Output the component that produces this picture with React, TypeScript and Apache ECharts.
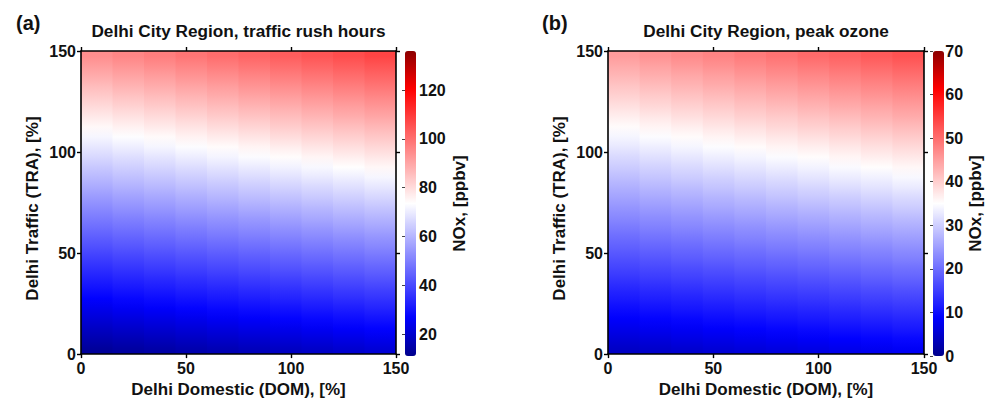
import React, { useEffect, useRef } from "react";
import * as echarts from "echarts";

// Cell centres (DOM along x, TRA along y), in %
const domCenters = [7.5, 22.5, 37.5, 52.5, 67.5, 82.5, 97.5, 112.5, 127.5, 142.5];
const traCenters = [
  2.5, 7.5, 12.5, 17.5, 22.5, 27.5, 32.5, 37.5, 42.5, 47.5,
  52.5, 57.5, 62.5, 67.5, 72.5, 77.5, 82.5, 87.5, 92.5, 97.5,
  102.5, 107.5, 112.5, 117.5, 122.5, 127.5, 132.5, 137.5, 142.5, 147.5,
];

// (a) NOx [ppbv], traffic rush hours; one row per TRA value (bottom to top), one column per DOM value
const noxRush = [
  [12.9, 13.8, 14.7, 15.6, 16.5, 17.4, 18.3, 19.2, 20.1, 21.0],
  [15.7, 16.6, 17.5, 18.5, 19.4, 20.3, 21.3, 22.2, 23.1, 24.0],
  [18.5, 19.4, 20.4, 21.3, 22.3, 23.2, 24.2, 25.1, 26.1, 27.0],
  [21.3, 22.3, 23.2, 24.2, 25.2, 26.1, 27.1, 28.1, 29.1, 30.0],
  [24.1, 25.1, 26.1, 27.1, 28.1, 29.1, 30.0, 31.0, 32.0, 33.0],
  [26.9, 27.9, 28.9, 29.9, 31.0, 32.0, 33.0, 34.0, 35.0, 36.0],
  [29.7, 30.8, 31.8, 32.8, 33.8, 34.9, 35.9, 36.9, 38.0, 39.0],
  [32.5, 33.6, 34.6, 35.7, 36.7, 37.8, 38.8, 39.9, 40.9, 42.0],
  [35.3, 36.4, 37.5, 38.6, 39.6, 40.7, 41.8, 42.8, 43.9, 45.0],
  [38.1, 39.2, 40.3, 41.4, 42.5, 43.6, 44.7, 45.8, 46.9, 48.0],
  [41.0, 42.1, 43.2, 44.3, 45.4, 46.5, 47.6, 48.7, 49.8, 51.0],
  [43.8, 44.9, 46.0, 47.2, 48.3, 49.4, 50.6, 51.7, 52.8, 53.9],
  [46.6, 47.7, 48.9, 50.0, 51.2, 52.3, 53.5, 54.6, 55.8, 56.9],
  [49.4, 50.6, 51.7, 52.9, 54.1, 55.2, 56.4, 57.6, 58.8, 59.9],
  [52.2, 53.4, 54.6, 55.8, 57.0, 58.2, 59.3, 60.5, 61.7, 62.9],
  [55.0, 56.2, 57.4, 58.6, 59.9, 61.1, 62.3, 63.5, 64.7, 65.9],
  [57.8, 59.1, 60.3, 61.5, 62.7, 64.0, 65.2, 66.4, 67.7, 68.9],
  [60.6, 61.9, 63.1, 64.4, 65.6, 66.9, 68.1, 69.4, 70.6, 71.9],
  [63.4, 64.7, 66.0, 67.3, 68.5, 69.8, 71.1, 72.3, 73.6, 74.9],
  [66.3, 67.5, 68.8, 70.1, 71.4, 72.7, 74.0, 75.3, 76.6, 77.9],
  [69.1, 70.4, 71.7, 73.0, 74.3, 75.6, 76.9, 78.2, 79.5, 80.9],
  [71.9, 73.2, 74.5, 75.9, 77.2, 78.5, 79.9, 81.2, 82.5, 83.8],
  [74.7, 76.0, 77.4, 78.7, 80.1, 81.4, 82.8, 84.1, 85.5, 86.8],
  [77.5, 78.9, 80.2, 81.6, 83.0, 84.3, 85.7, 87.1, 88.5, 89.8],
  [80.3, 81.7, 83.1, 84.5, 85.9, 87.3, 88.6, 90.0, 91.4, 92.8],
  [83.1, 84.5, 85.9, 87.3, 88.8, 90.2, 91.6, 93.0, 94.4, 95.8],
  [85.9, 87.4, 88.8, 90.2, 91.6, 93.1, 94.5, 95.9, 97.4, 98.8],
  [88.7, 90.2, 91.6, 93.1, 94.5, 96.0, 97.4, 98.9, 100.3, 101.8],
  [91.5, 93.0, 94.5, 96.0, 97.4, 98.9, 100.4, 101.8, 103.3, 104.8],
  [94.3, 95.8, 97.3, 98.8, 100.3, 101.8, 103.3, 104.8, 106.3, 107.8],
];

// (b) NOx [ppbv], peak ozone
const noxOzone = [
  [4.4, 4.8, 5.2, 5.6, 6.0, 6.4, 6.8, 7.3, 7.7, 8.1],
  [5.8, 6.2, 6.7, 7.1, 7.5, 7.9, 8.3, 8.8, 9.2, 9.6],
  [7.2, 7.7, 8.1, 8.5, 9.0, 9.4, 9.8, 10.3, 10.7, 11.2],
  [8.6, 9.1, 9.5, 10.0, 10.4, 10.9, 11.3, 11.8, 12.2, 12.7],
  [10.0, 10.5, 11.0, 11.4, 11.9, 12.4, 12.8, 13.3, 13.8, 14.2],
  [11.4, 11.9, 12.4, 12.9, 13.4, 13.9, 14.3, 14.8, 15.3, 15.8],
  [12.8, 13.3, 13.8, 14.3, 14.8, 15.3, 15.8, 16.3, 16.8, 17.3],
  [14.3, 14.8, 15.3, 15.8, 16.3, 16.8, 17.3, 17.8, 18.4, 18.9],
  [15.7, 16.2, 16.7, 17.2, 17.8, 18.3, 18.8, 19.4, 19.9, 20.4],
  [17.1, 17.6, 18.2, 18.7, 19.2, 19.8, 20.3, 20.9, 21.4, 22.0],
  [18.5, 19.0, 19.6, 20.2, 20.7, 21.3, 21.8, 22.4, 22.9, 23.5],
  [19.9, 20.5, 21.0, 21.6, 22.2, 22.8, 23.3, 23.9, 24.5, 25.0],
  [21.3, 21.9, 22.5, 23.1, 23.6, 24.2, 24.8, 25.4, 26.0, 26.6],
  [22.7, 23.3, 23.9, 24.5, 25.1, 25.7, 26.3, 26.9, 27.5, 28.1],
  [24.1, 24.7, 25.3, 26.0, 26.6, 27.2, 27.8, 28.4, 29.0, 29.7],
  [25.5, 26.1, 26.8, 27.4, 28.0, 28.7, 29.3, 29.9, 30.6, 31.2],
  [26.9, 27.6, 28.2, 28.9, 29.5, 30.2, 30.8, 31.5, 32.1, 32.8],
  [28.3, 29.0, 29.7, 30.3, 31.0, 31.6, 32.3, 33.0, 33.6, 34.3],
  [29.7, 30.4, 31.1, 31.8, 32.4, 33.1, 33.8, 34.5, 35.2, 35.8],
  [31.1, 31.8, 32.5, 33.2, 33.9, 34.6, 35.3, 36.0, 36.7, 37.4],
  [32.6, 33.3, 34.0, 34.7, 35.4, 36.1, 36.8, 37.5, 38.2, 38.9],
  [34.0, 34.7, 35.4, 36.1, 36.9, 37.6, 38.3, 39.0, 39.7, 40.5],
  [35.4, 36.1, 36.8, 37.6, 38.3, 39.1, 39.8, 40.5, 41.3, 42.0],
  [36.8, 37.5, 38.3, 39.0, 39.8, 40.5, 41.3, 42.0, 42.8, 43.6],
  [38.2, 39.0, 39.7, 40.5, 41.3, 42.0, 42.8, 43.6, 44.3, 45.1],
  [39.6, 40.4, 41.2, 41.9, 42.7, 43.5, 44.3, 45.1, 45.9, 46.6],
  [41.0, 41.8, 42.6, 43.4, 44.2, 45.0, 45.8, 46.6, 47.4, 48.2],
  [42.4, 43.2, 44.0, 44.8, 45.7, 46.5, 47.3, 48.1, 48.9, 49.7],
  [43.8, 44.6, 45.5, 46.3, 47.1, 48.0, 48.8, 49.6, 50.4, 51.3],
  [45.2, 46.1, 46.9, 47.7, 48.6, 49.4, 50.3, 51.1, 52.0, 52.8],
];

const axisRange = [0, 150];
const axisStep = 50;
const cbRangeA = [11, 136];
const cbTicksA = [20, 40, 60, 80, 100, 120];
const cbRangeB = [0, 70];
const cbTicksB = [0, 10, 20, 30, 40, 50, 60, 70];

const titles = ["Delhi City Region, traffic rush hours", "Delhi City Region, peak ozone"];
const panelLabels = ["(a)", "(b)"];
const xName = "Delhi Domestic (DOM), [%]";
const yName = "Delhi Traffic (TRA), [%]";
const cbName = "NOx, [ppbv]";

// blue-white-red colormap with dark ends (evenly spaced stops)
const colormap = [
  "#00008c", "#0000ff", "#5555ff", "#aaaaff", "#ffffff",
  "#ffaaaa", "#ff5555", "#ff0000", "#8c0000",
];

const FONT = "'Liberation Sans', Arial, Helvetica, sans-serif";
const TXT = "#111";

function hexRgb(h: string) {
  return [parseInt(h.slice(1, 3), 16), parseInt(h.slice(3, 5), 16), parseInt(h.slice(5, 7), 16)];
}
function mapColor(v: number, range: number[]) {
  let t = (v - range[0]) / (range[1] - range[0]);
  t = Math.max(0, Math.min(1, t));
  const pos = t * (colormap.length - 1);
  const k = Math.min(colormap.length - 2, Math.floor(pos));
  const f = pos - k;
  const a = hexRgb(colormap[k]);
  const b = hexRgb(colormap[k + 1]);
  const c = a.map((av, n) => Math.round(av + (b[n] - av) * f));
  return `rgb(${c[0]},${c[1]},${c[2]})`;
}

// each DOM column is drawn as one strip, shaded through the TRA rows of that column
function fieldSeries(rows: number[][], xAxisIndex: number, yAxisIndex: number, range: number[]) {
  const half = (domCenters[1] - domCenters[0]) / 2;
  return {
    type: "custom",
    coordinateSystem: "cartesian2d",
    xAxisIndex,
    yAxisIndex,
    clip: true,
    data: domCenters.map((d, i) => [d, i]),
    encode: { x: 0, y: 1 },
    renderItem: (_params: any, api: any) => {
      const i = api.value(1);
      const xc = api.value(0);
      const pTop = api.coord([xc - half, axisRange[1]]);
      const pBot = api.coord([xc + half, axisRange[0]]);
      const span = axisRange[1] - axisRange[0];
      const stops = traCenters
        .map((t, j) => ({ offset: (axisRange[1] - t) / span, color: mapColor(rows[j][i], range) }))
        .reverse();
      const last = i === domCenters.length - 1;
      return {
        type: "rect",
        shape: {
          x: pTop[0],
          y: pTop[1],
          width: pBot[0] - pTop[0] + (last ? 0 : 0.8),
          height: pBot[1] - pTop[1],
        },
        style: { fill: new echarts.graphic.LinearGradient(0, 0, 0, 1, stops) },
      };
    },
  };
}

function valueX(gridIndex: number, position: string, labels: boolean) {
  return {
    type: "value",
    gridIndex,
    position,
    min: axisRange[0],
    max: axisRange[1],
    interval: axisStep,
    z: 10,
    axisLine: { show: true, onZero: false, lineStyle: { color: "#000", width: 1.6 } },
    axisTick: { show: true, length: 4, lineStyle: { color: "#000", width: 1.4 } },
    axisLabel: { show: labels, margin: 6, fontSize: 16, fontWeight: "bold", color: TXT, fontFamily: FONT },
    splitLine: { show: false },
    name: labels ? xName : "",
    nameLocation: "middle",
    nameGap: 20,
    nameTextStyle: { fontSize: 17, fontWeight: "bold", color: TXT, fontFamily: FONT },
  };
}

function valueY(gridIndex: number, position: string, labels: boolean) {
  return {
    type: "value",
    gridIndex,
    position,
    min: axisRange[0],
    max: axisRange[1],
    interval: axisStep,
    z: 10,
    axisLine: { show: true, onZero: false, lineStyle: { color: "#000", width: 1.6 } },
    axisTick: { show: true, length: 4, lineStyle: { color: "#000", width: 1.4 } },
    axisLabel: { show: labels, margin: 5, fontSize: 16, fontWeight: "bold", color: TXT, fontFamily: FONT },
    splitLine: { show: false },
    name: labels ? yName : "",
    nameLocation: "middle",
    nameGap: 40,
    nameTextStyle: { fontSize: 17, fontWeight: "bold", color: TXT, fontFamily: FONT, padding: [0, 0, 0, -12] },
  };
}

function cbAxis(gridIndex: number, range: number[], ticks: number[], gap: number) {
  return {
    type: "value",
    gridIndex,
    position: "right",
    min: range[0],
    max: range[1],
    splitNumber: 6,
    z: 10,
    axisLine: { show: false },
    axisTick: { show: true, inside: true, length: 3, customValues: ticks, lineStyle: { color: "#444", width: 1 } },
    axisLabel: {
      margin: 3, customValues: ticks,
      fontSize: 16, fontWeight: "bold", color: TXT, fontFamily: FONT,
    },
    splitLine: { show: false },
    name: cbName,
    nameLocation: "middle",
    nameGap: gap,
    nameTextStyle: { fontSize: 17, fontWeight: "bold", color: TXT, fontFamily: FONT },
  };
}

const plotGrids = [
  { left: 81, top: 51, width: 315, height: 305 },
  { left: 608, top: 51, width: 316, height: 305 },
];
const cbGrids = [
  { left: 405, top: 51, width: 11, height: 305 },
  { left: 933, top: 51, width: 11, height: 305 },
];

const option: any = {
  animation: false,
  backgroundColor: "#fff",
  grid: [...plotGrids, ...cbGrids],
  xAxis: [
    valueX(0, "bottom", true),
    valueX(0, "top", false),
    valueX(1, "bottom", true),
    valueX(1, "top", false),
    { type: "value", gridIndex: 2, position: "bottom", min: 0, max: 1, show: false },
    { type: "value", gridIndex: 3, position: "bottom", min: 0, max: 1, show: false },
  ],
  yAxis: [
    valueY(0, "left", true),
    valueY(0, "right", false),
    valueY(1, "left", true),
    valueY(1, "right", false),
    cbAxis(2, cbRangeA, cbTicksA, 35),
    cbAxis(3, cbRangeB, cbTicksB, 23),
  ],
  visualMap: [
    {
      type: "continuous", seriesIndex: 0, dimension: 1, min: cbRangeA[0], max: cbRangeA[1],
      calculable: false, hoverLink: false, left: cbGrids[0].left, top: cbGrids[0].top,
      itemWidth: cbGrids[0].width, itemHeight: cbGrids[0].height, padding: 0,
      inRange: { color: colormap },
    },
    {
      type: "continuous", seriesIndex: 1, dimension: 1, min: cbRangeB[0], max: cbRangeB[1],
      calculable: false, hoverLink: false, left: cbGrids[1].left, top: cbGrids[1].top,
      itemWidth: cbGrids[1].width, itemHeight: cbGrids[1].height, padding: 0,
      inRange: { color: colormap },
    },
  ],
  series: [
    fieldSeries(noxRush, 0, 0, cbRangeA),
    fieldSeries(noxOzone, 2, 2, cbRangeB),
  ],
  graphic: [
    { type: "text", x: 238.5, y: 31, style: { text: titles[0], align: "center", verticalAlign: "middle", font: `bold 17.2px ${FONT}`, fill: TXT } },
    { type: "text", x: 766, y: 31, style: { text: titles[1], align: "center", verticalAlign: "middle", font: `bold 17.2px ${FONT}`, fill: TXT } },
    { type: "text", x: 16, y: 23, style: { text: panelLabels[0], align: "left", verticalAlign: "middle", font: `bold 20px ${FONT}`, fill: TXT } },
    { type: "text", x: 542, y: 23, style: { text: panelLabels[1], align: "left", verticalAlign: "middle", font: `bold 20px ${FONT}`, fill: TXT } },
  ],
};

export default function App() {
  const ref = useRef<HTMLDivElement>(null);
  useEffect(() => {
    document.body.style.margin = "0";
    const chart = echarts.init(ref.current!, null, { renderer: "svg" });
    chart.setOption(option);
    return () => chart.dispose();
  }, []);
  return <div ref={ref} style={{ width: 985, height: 403 }} />;
}
